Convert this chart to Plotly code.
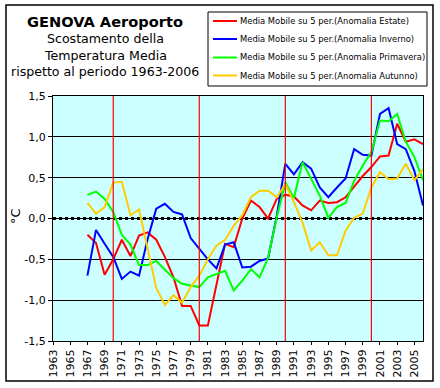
import plotly.graph_objects as go

years = list(range(1967, 2007))

estate = [-0.20, -0.30, -0.69, -0.50, -0.26, -0.46, -0.21, -0.17, -0.26, -0.47, -0.72,
          -1.07, -1.07, -1.31, -1.31, -0.80, -0.31, -0.35, 0.00, 0.22, 0.14, 0.00,
          0.24, 0.29, 0.27, 0.16, 0.10, 0.22, 0.19, 0.20, 0.26, 0.39, 0.52, 0.63,
          0.76, 0.77, 1.16, 0.94, 0.97, 0.91]
inverno = [-0.70, -0.14, -0.31, -0.47, -0.74, -0.65, -0.70, -0.25, 0.12, 0.18, 0.08,
           0.05, -0.24, -0.37, -0.50, -0.61, -0.32, -0.29, -0.60, -0.59, -0.52, -0.49,
           0.03, 0.67, 0.54, 0.69, 0.61, 0.38, 0.26, 0.38, 0.49, 0.85, 0.78, 0.77,
           1.28, 1.35, 0.91, 0.85, 0.58, 0.16]
primavera = [0.29, 0.33, 0.24, 0.08, -0.20, -0.32, -0.57, -0.57, -0.52, -0.62, -0.73,
             -0.80, -0.82, -0.84, -0.72, -0.68, -0.64, -0.88, -0.76, -0.62, -0.72, -0.48,
             0.01, 0.44, 0.25, 0.69, 0.48, 0.28, 0.01, 0.14, 0.19, 0.46, 0.65, 0.81,
             1.20, 1.19, 1.28, 0.94, 0.75, 0.47]
autunno = [0.19, 0.06, 0.14, 0.44, 0.45, 0.04, 0.11, -0.38, -0.85, -1.06, -0.94,
           -1.03, -0.84, -0.70, -0.50, -0.33, -0.26, -0.09, 0.04, 0.26, 0.34, 0.34,
           0.26, 0.42, 0.20, -0.05, -0.39, -0.29, -0.45, -0.45, -0.15, 0.01, 0.06, 0.38,
           0.57, 0.48, 0.49, 0.67, 0.47, 0.60]

series_names = [
    "Media Mobile su 5 per.(Anomalia Estate)",
    "Media Mobile su 5 per.(Anomalia Inverno)",
    "Media Mobile su 5 per.(Anomalia Primavera)",
    "Media Mobile su 5 per.(Anomalia Autunno)",
]
series_colors = ["#FF0000", "#0000FF", "#00FF00", "#FFCC00"]
series_values = [estate, inverno, primavera, autunno]

tick_years = list(range(1963, 2006, 2))
tick_labels = [str(y) for y in tick_years]
y_ticks = [-1.5, -1.0, -0.5, 0.0, 0.5, 1.0, 1.5]
y_tick_labels = ["-1,5", "-1,0", "-0,5", "0,0", "0,5", "1,0", "1,5"]
decade_lines = [1970, 1980, 1990, 2000]

title_lines = ["GENOVA Aeroporto", "Scostamento della", "Temperatura Media",
               "rispetto al periodo 1963-2006"]

W, H = 440, 388
PL, PR, PT, PB = 53, 423, 96, 341
FONT = "DejaVu Sans"


def px(x):
    return (x - PL) / (PR - PL)


def py(y):
    return (PB - y) / (PB - PT)


fig = go.Figure()
for name, col, vals in zip(series_names, series_colors, series_values):
    fig.add_trace(go.Scatter(x=years, y=vals, mode="lines", name=name,
                             line=dict(color=col, width=2), showlegend=False))

shapes = []
shapes.append(dict(type="line", xref="paper", yref="y", x0=0, x1=1, y0=0, y1=0,
                   line=dict(color="black", width=3, dash="dot"), layer="between"))
for yr in decade_lines:
    shapes.append(dict(type="line", xref="x", yref="paper", x0=yr, x1=yr, y0=0, y1=1,
                       line=dict(color="#FF0000", width=1.2), layer="above"))
# outer chart border
shapes.append(dict(type="rect", xref="paper", yref="paper", x0=px(6), x1=px(433),
                   y0=py(381), y1=py(5), line=dict(color="black", width=1.5)))
# legend box
shapes.append(dict(type="rect", xref="paper", yref="paper", x0=px(208), x1=px(427),
                   y0=py(86), y1=py(12), line=dict(color="black", width=1),
                   fillcolor="white"))

annotations = []
leg_y = [21, 39, 57.5, 75.5]
for name, col, ly in zip(series_names, series_colors, leg_y):
    shapes.append(dict(type="line", xref="paper", yref="paper", x0=px(213), x1=px(237),
                       y0=py(ly), y1=py(ly), line=dict(color=col, width=2)))
    annotations.append(dict(xref="paper", yref="paper", x=px(238), y=py(ly), text=name,
                            showarrow=False, xanchor="left", yanchor="middle",
                            font=dict(family=FONT, size=8.4, color="black")))

title_y = [21, 38, 55, 71]
for i, (t, ty) in enumerate(zip(title_lines, title_y)):
    annotations.append(dict(xref="paper", yref="paper", x=px(105), y=py(ty),
                            text=("<b>%s</b>" % t) if i == 0 else t, showarrow=False,
                            xanchor="center", yanchor="middle",
                            font=dict(family=FONT, size=14.6 if i == 0 else 12.6,
                                      color="black")))

annotations.append(dict(xref="paper", yref="paper", x=px(15), y=py(216), text="°C",
                        showarrow=False, textangle=-90, xanchor="center",
                        yanchor="middle", font=dict(family=FONT, size=13, color="black")))

fig.update_layout(
    width=W, height=H,
    margin=dict(l=PL, r=W - PR, t=PT, b=H - PB, pad=0),
    paper_bgcolor="white", plot_bgcolor="#CCFFFF",
    showlegend=False,
    shapes=shapes, annotations=annotations,
    xaxis=dict(range=[1963, 2006], tickvals=tick_years, ticktext=tick_labels,
               tickangle=-90, showgrid=False, zeroline=False, showline=True,
               linecolor="black", linewidth=1, mirror=True, ticks="outside",
               ticklen=3, tickcolor="black",
               tickfont=dict(family=FONT, size=11, color="black")),
    yaxis=dict(range=[-1.5, 1.5], tickvals=y_ticks, ticktext=y_tick_labels,
               showgrid=True, gridcolor="black", gridwidth=1, zeroline=False,
               showline=True, linecolor="black", linewidth=1, mirror=True,
               ticks="outside", ticklen=4, tickcolor="black",
               tickfont=dict(family=FONT, size=11, color="black")),
)

fig.write_html("out.html", config={"displayModeBar": False},
               post_script="document.body.style.margin='0';document.body.style.overflow='hidden';")
